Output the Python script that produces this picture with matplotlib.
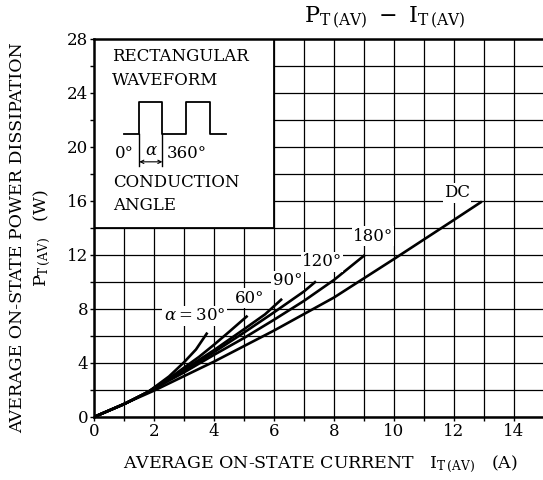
import matplotlib.pyplot as plt
from matplotlib.patches import Rectangle
import numpy as np

plt.rcParams['font.family'] = 'DejaVu Serif'
plt.rcParams['mathtext.fontset'] = 'dejavuserif'

# curves: average current (A) vs power (W)
x30 = [0, 1, 1.8, 2.5, 3.0, 3.4, 3.78]
y30 = [0, 0.95, 1.85, 3.0, 4.05, 5.0, 6.25]
x60 = [0, 1, 1.8, 2.5, 3.0, 3.5, 4.0, 4.5, 5.12]
y60 = [0, 0.95, 1.85, 2.85, 3.65, 4.45, 5.35, 6.3, 7.5]
x90 = [0, 1, 1.8, 2.5, 3.0, 4.0, 5.0, 5.7, 6.27]
y90 = [0, 0.95, 1.85, 2.8, 3.5, 4.95, 6.5, 7.6, 8.75]
x120 = [0, 1, 1.8, 3, 4, 5, 6, 7, 7.4]
y120 = [0, 0.95, 1.85, 3.4, 4.8, 6.25, 7.75, 9.3, 10.05]
x180 = [0, 1, 1.8, 3, 4, 5, 6, 7, 8, 9.03]
y180 = [0, 0.95, 1.85, 3.3, 4.6, 5.85, 7.2, 8.6, 10.15, 12.0]
xdc = [0, 1, 2, 4, 6, 8, 10, 12, 12.93]
ydc = [0, 0.97, 1.95, 4.1, 6.4, 8.85, 11.7, 14.6, 15.96]

curves = [(x30, y30), (x60, y60), (x90, y90), (x120, y120), (x180, y180), (xdc, ydc)]
labels = [r'$\alpha=30°$', '60°', '90°', '120°', '180°', 'DC']
label_pos = [(3.35, 7.5), (5.2, 8.8), (6.45, 10.1), (7.6, 11.5), (9.3, 13.4), (12.1, 16.6)]

fig = plt.figure(figsize=(5.43, 4.8), dpi=100)
ax = fig.add_axes([0.1731, 0.1313, 0.8287, 0.7875])

for xs, ys in curves:
    ax.plot(xs, ys, color='black', lw=1.9, zorder=3, solid_capstyle='butt')

for lab, (lx, ly) in zip(labels, label_pos):
    ax.text(lx, ly, lab, fontsize=12, ha='center', va='center', zorder=4,
            bbox=dict(facecolor='white', edgecolor='none', pad=1))

ax.set_xlim(0, 15)
ax.set_ylim(0, 28)
ax.set_xticks(np.arange(0, 15, 2))
ax.set_xticks(np.arange(0, 16, 1), minor=True)
ax.set_yticks(np.arange(0, 29, 4))
ax.set_yticks(np.arange(0, 29, 2), minor=True)
ax.set_axisbelow(True)
ax.grid(which='both', color='black', lw=0.9)
ax.tick_params(which='both', direction='out', length=3, width=1, labelsize=12, pad=1)
for s in ['left', 'bottom', 'top']:
    ax.spines[s].set_linewidth(1.8)
ax.spines['right'].set_visible(False)

# white waveform box in the upper-left
ax.add_patch(Rectangle((0, 14), 6, 14, facecolor='white', edgecolor='black', lw=1.3, zorder=1.5))
ax.text(0.6, 26.7, 'RECTANGULAR', fontsize=12, va='center', zorder=2)
ax.text(0.6, 24.95, 'WAVEFORM', fontsize=12, va='center', zorder=2)
ax.text(0.65, 17.35, 'CONDUCTION', fontsize=12, va='center', zorder=2)
ax.text(0.65, 15.7, 'ANGLE', fontsize=12, va='center', zorder=2)
wave_x = [1.01, 1.51, 1.51, 2.28, 2.28, 3.07, 3.07, 3.87, 3.87, 4.4]
wave_y = [20.96, 20.96, 23.36, 23.36, 20.96, 20.96, 23.36, 23.36, 20.96, 20.96]
ax.plot(wave_x, wave_y, color='black', lw=1.3, zorder=2)
ax.plot([1.51, 1.51], [20.96, 18.6], color='black', lw=1.0, zorder=2)
ax.plot([2.28, 2.28], [20.96, 18.6], color='black', lw=1.0, zorder=2)
ax.annotate('', xy=(1.51, 18.9), xytext=(2.28, 18.9),
            arrowprops=dict(arrowstyle='<->', lw=0.8, shrinkA=0, shrinkB=0,
                            mutation_scale=6), zorder=2)
ax.text(1.9, 19.75, r'$\alpha$', fontsize=12, ha='center', va='center', zorder=2)
ax.text(1.0, 19.55, '0°', fontsize=12, ha='center', va='center', zorder=2)
ax.text(2.42, 19.55, '360°', fontsize=12, ha='left', va='center', zorder=2)

fig.text(385 / 543, 1 - 18 / 480, r'$\mathrm{P}_{\mathrm{T\,(AV)}}\ -\ \mathrm{I}_{\mathrm{T\,(AV)}}$',
         fontsize=16, ha='center', va='center')
fig.text(320 / 543, 1 - 464 / 480,
         r'AVERAGE ON-STATE CURRENT   $\mathrm{I}_{\mathrm{T\,(AV)}}$   (A)',
         fontsize=12.5, ha='center', va='center')
fig.text(18 / 543, 1 - 238 / 480, 'AVERAGE ON-STATE POWER DISSIPATION',
         fontsize=12.5, rotation=90, ha='center', va='center')
fig.text(42 / 543, 1 - 238 / 480, r'$\mathrm{P}_{\mathrm{T\,(AV)}}$   (W)',
         fontsize=12.5, rotation=90, ha='center', va='center')

fig.savefig('out.png', dpi=100)
